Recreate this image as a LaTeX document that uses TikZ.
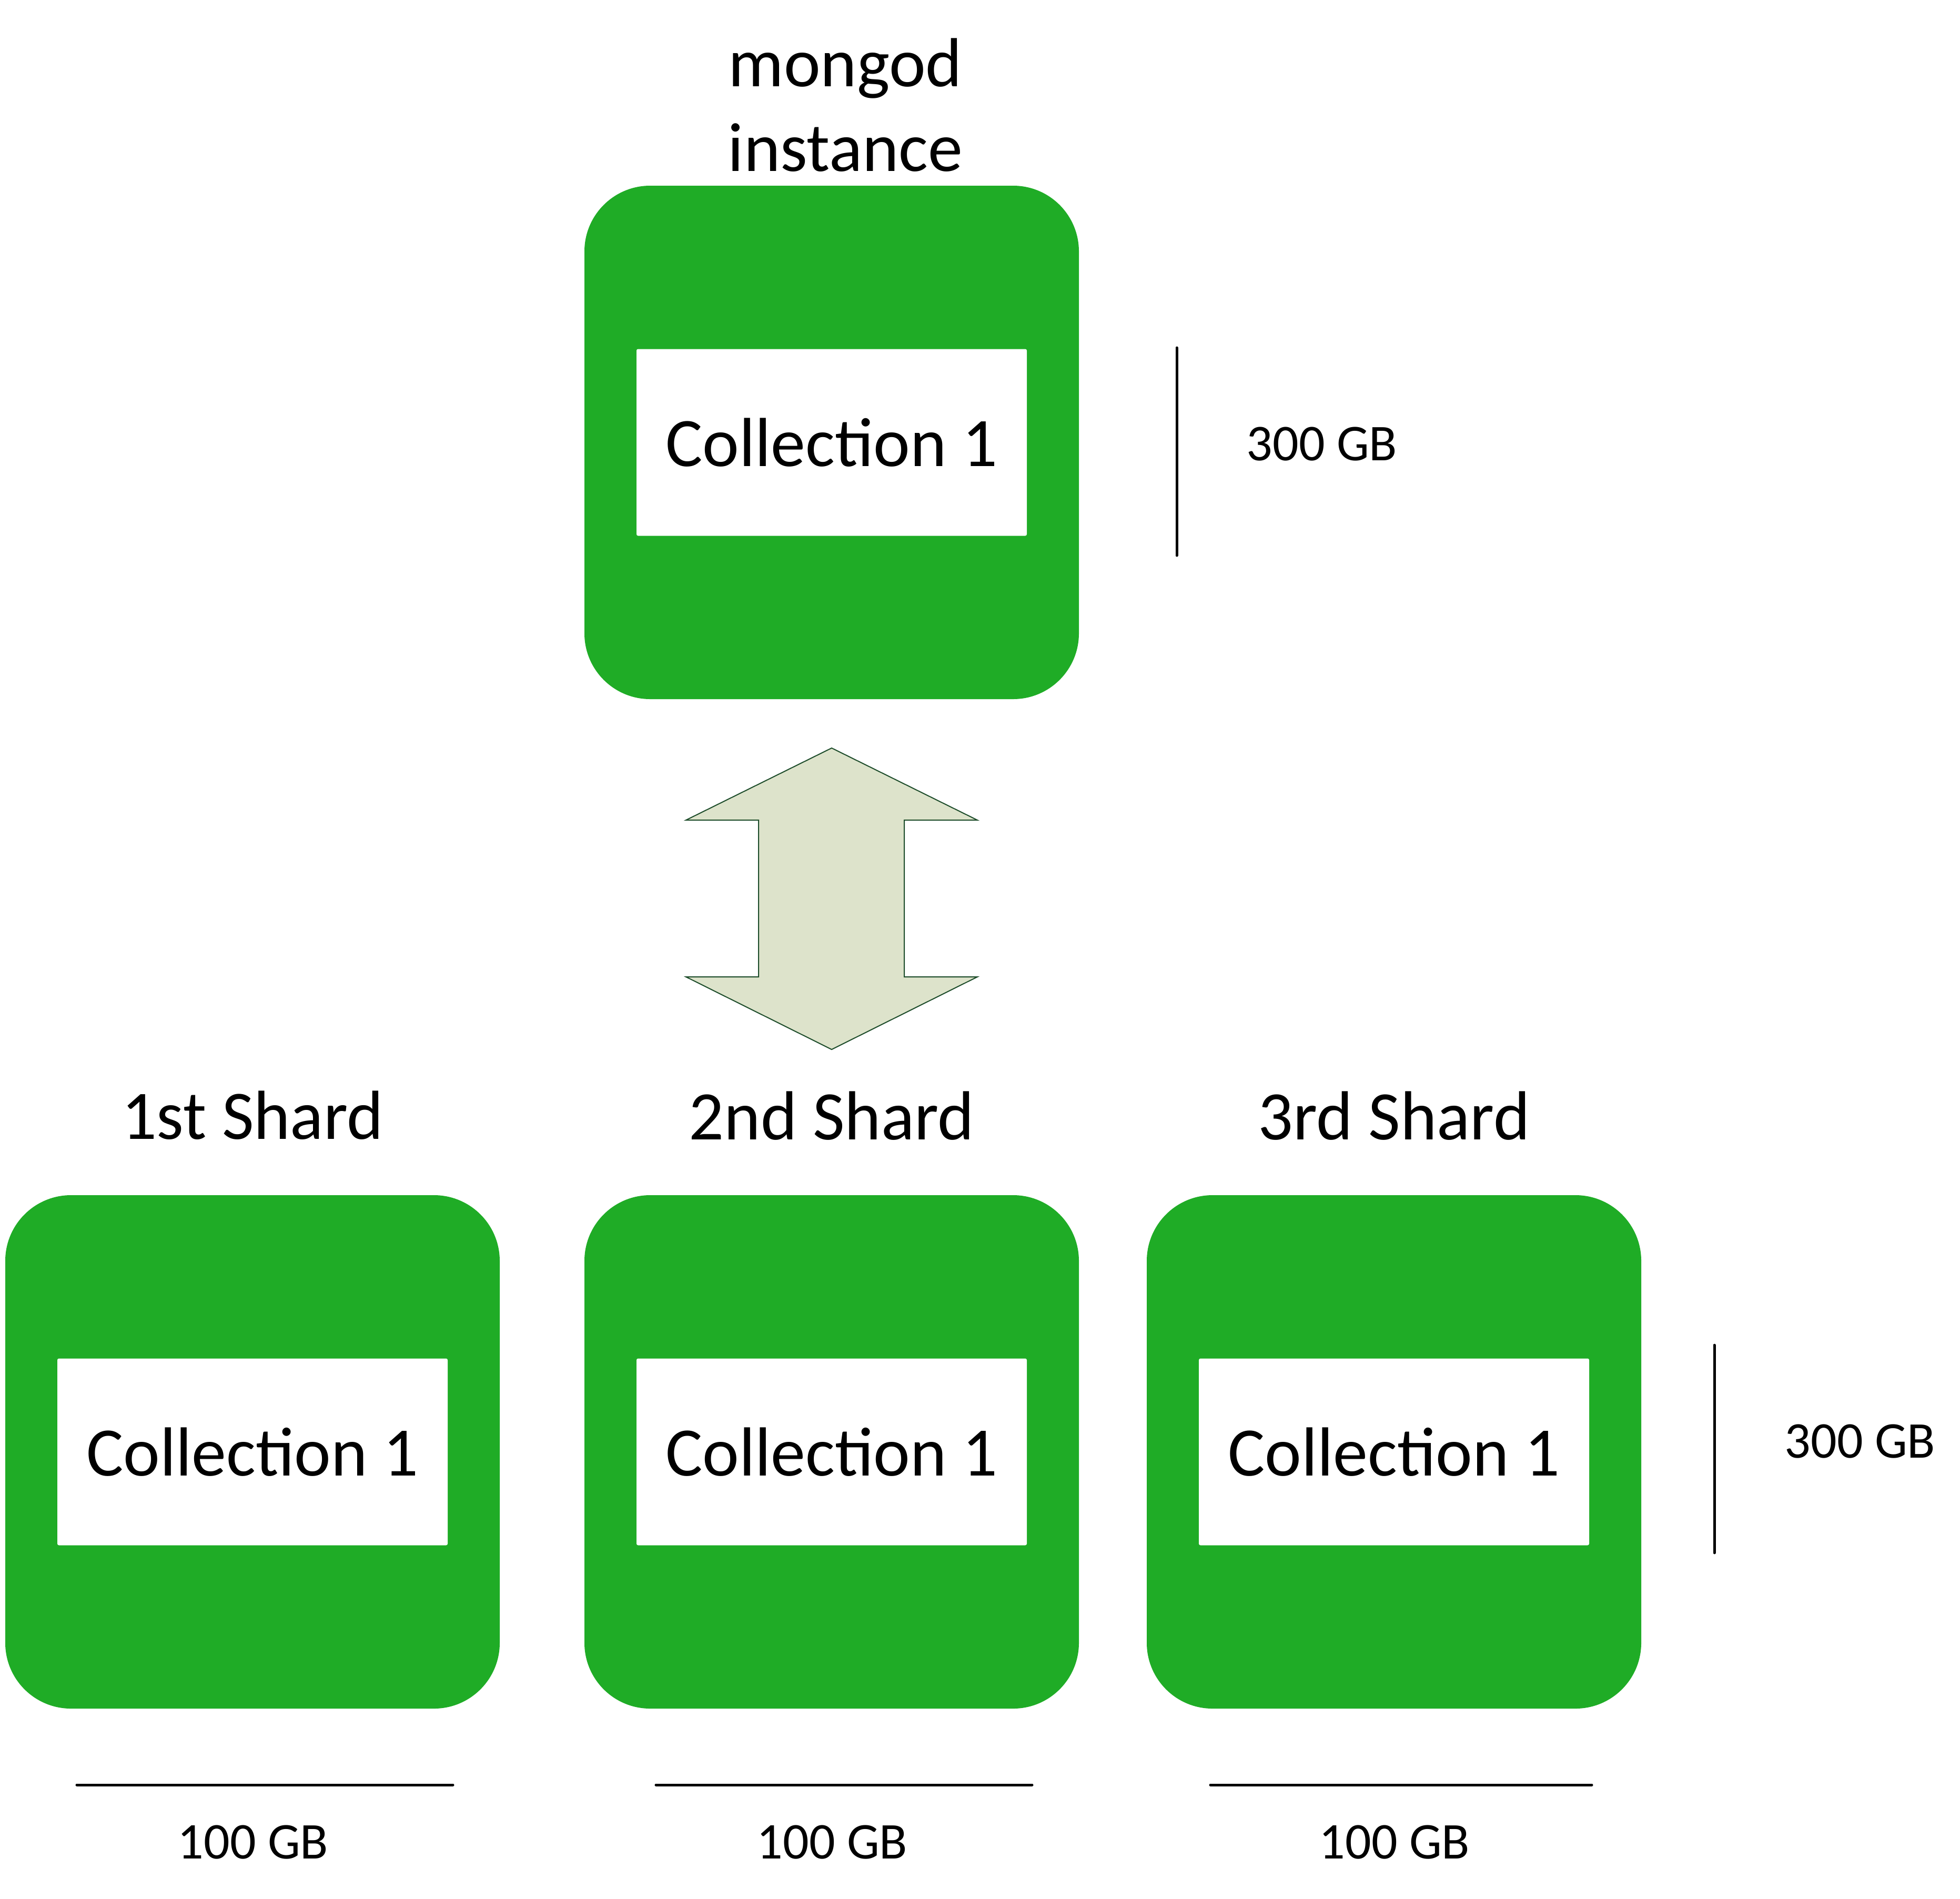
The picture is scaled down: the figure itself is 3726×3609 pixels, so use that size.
\documentclass[tikz,border=0pt]{standalone}
\usepackage{fontspec}
\setmainfont{Carlito}
\usepackage{tikz}
\usetikzlibrary{positioning}
\definecolor{mgreen}{RGB}{31,172,38}
\definecolor{arrowfill}{RGB}{221,227,203}
\definecolor{arrowline}{RGB}{30,77,43}

\begin{document}
\begin{tikzpicture}[
    x=1pt, y=-1pt,
    % Styles
    server/.style={% For the green boxes
        rectangle,
        rounded corners=125pt,
        fill=mgreen,
        minimum width=940pt,
        minimum height=976pt,
        inner sep=0pt,
        },
    coll/.style={% For the white collection boxes
        rectangle,
        rounded corners=3pt,
        fill=white,
        minimum width=742pt,
        minimum height=355pt,
        inner sep=0pt,
        font=\fontsize{132}{161}\selectfont,
        },
    biglabel/.style={% Titles above the boxes
        anchor=base,
        inner sep=0pt,
        font=\fontsize{132}{161}\selectfont,
        },
    sizelabel/.style={% Sizes next to the boxes
        anchor=base,
        inner sep=0pt,
        font=\fontsize{98}{118}\selectfont,
        },
    sizeline/.style={% Lines showing the size
        line width=5pt,
        line cap=round,
        },
    bigarrow/.style={% The double block arrow
        fill=arrowfill,
        draw=arrowline,
        line width=2pt,
        line join=miter,
        }
    ]
    \useasboundingbox (0,0) rectangle (3726,3609);

    % Draw the mongod instance
    \node [server] (mongod) at (1581,841) {};
    \node [coll] (coll0) at (mongod.center) {Collection 1};
    % base of a two line node is its last line
    \node [biglabel, align=center] (lbl0) at (1607,325) {mongod\\instance};

    % Draw the shards named shard#
    \node [server] (shard1) at (480,2760) {};
    \node [server] (shard2) at (1581,2760) {};
    \node [server] (shard3) at (2650,2760) {};

    \node [coll] (coll1) at (shard1.center) {Collection 1};
    \node [coll] (coll2) at (shard2.center) {Collection 1};
    \node [coll] (coll3) at (shard3.center) {Collection 1};

    \node [biglabel] (lbl1) at (480,2165) {1st Shard};
    \node [biglabel] (lbl2) at (1581,2166) {2nd Shard};
    \node [biglabel] (lbl3) at (2650,2166) {3rd Shard};

    % Draw the arrow between instance and shards
    \coordinate (tip1) at (1581,1422);
    \coordinate (tip2) at (1581,1995);
    \draw [bigarrow] (tip1) -- (1858,1559) -- (1719,1559) -- (1719,1857)
        -- (1858,1857) -- (tip2) -- (1304,1857) -- (1442,1857)
        -- (1442,1559) -- (1304,1559) -- cycle;

    % Size of the whole collection
    \coordinate (v0a) at (2237,661);
    \coordinate (v0b) at (2237,1056);
    \draw [sizeline] (v0a) -- (v0b);
    \node [sizelabel] (s0) at (2513,875) {300 GB};

    \coordinate (v3a) at (3259,2557);
    \coordinate (v3b) at (3259,2952);
    \draw [sizeline] (v3a) -- (v3b);
    \node [sizelabel] (s4) at (3536,2771) {300 GB};

    % Size of each shard
    \coordinate (h1a) at (146,3393);
    \coordinate (h1b) at (861,3393);
    \coordinate (h2a) at (1247,3393);
    \coordinate (h2b) at (1962,3393);
    \coordinate (h3a) at (2301,3393);
    \coordinate (h3b) at (3026,3393);
    \draw [sizeline] (h1a) -- (h1b);
    \draw [sizeline] (h2a) -- (h2b);
    \draw [sizeline] (h3a) -- (h3b);
    \node [sizelabel] (s1) at (481,3533) {100 GB};
    \node [sizelabel] (s2) at (1582,3533) {100 GB};
    \node [sizelabel] (s3) at (2651,3533) {100 GB};

\end{tikzpicture}
\end{document}
